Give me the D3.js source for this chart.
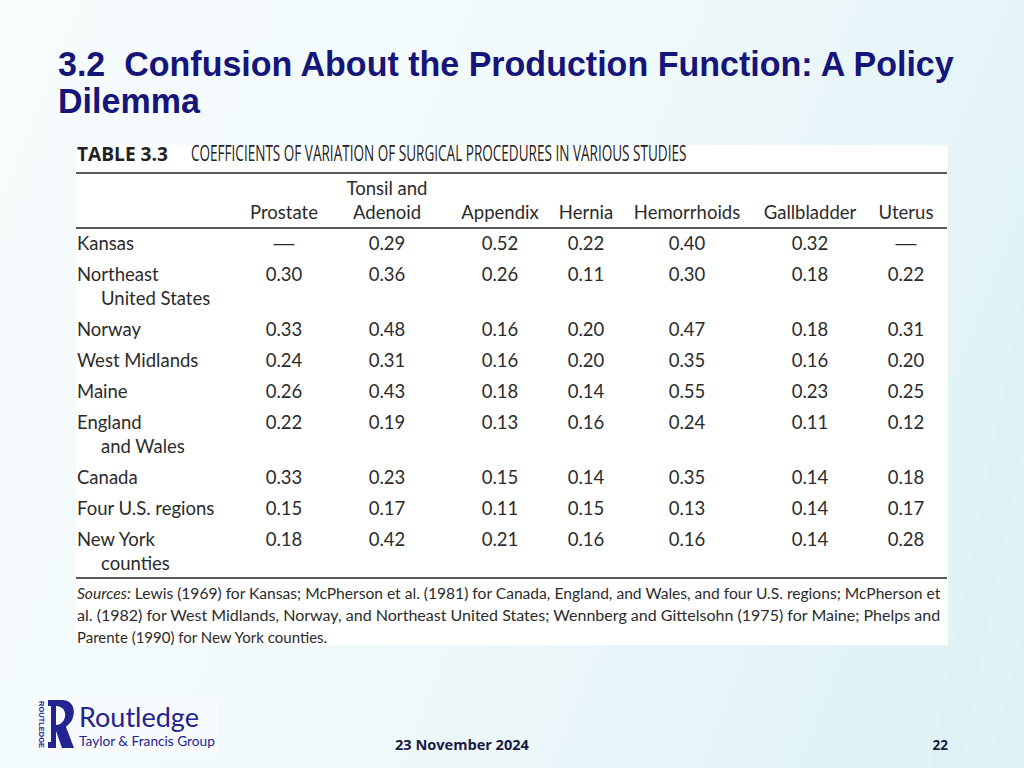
<!DOCTYPE html>
<html><head><meta charset="utf-8">
<script src="https://cdn.jsdelivr.net/npm/d3@7"></script>
<style>html,body{margin:0;padding:0;overflow:hidden;background:#f4fbfc} text{white-space:pre}</style>
</head><body>
<script>
// ---- data ----
const titleLines = ["3.2  Confusion About the Production Function: A Policy", "Dilemma"];
const tableLabel = "TABLE 3.3";
const tableCaption = "COEFFICIENTS OF VARIATION OF SURGICAL PROCEDURES IN VARIOUS STUDIES";
const columns = ["Prostate", "Tonsil and Adenoid", "Appendix", "Hernia", "Hemorrhoids", "Gallbladder", "Uterus"];
const columnHeaderLines = [["Prostate"], ["Tonsil and", "Adenoid"], ["Appendix"], ["Hernia"], ["Hemorrhoids"], ["Gallbladder"], ["Uterus"]];
const rowLabelLines = [
  ["Kansas"], ["Northeast", "United States"], ["Norway"], ["West Midlands"], ["Maine"],
  ["England", "and Wales"], ["Canada"], ["Four U.S. regions"], ["New York", "counties"]
];
const prostate    = [null, 0.30, 0.33, 0.24, 0.26, 0.22, 0.33, 0.15, 0.18];
const tonsil      = [0.29, 0.36, 0.48, 0.31, 0.43, 0.19, 0.23, 0.17, 0.42];
const appendix    = [0.52, 0.26, 0.16, 0.16, 0.18, 0.13, 0.15, 0.11, 0.21];
const hernia      = [0.22, 0.11, 0.20, 0.20, 0.14, 0.16, 0.14, 0.15, 0.16];
const hemorrhoids = [0.40, 0.30, 0.47, 0.35, 0.55, 0.24, 0.35, 0.13, 0.16];
const gallbladder = [0.32, 0.18, 0.18, 0.16, 0.23, 0.11, 0.14, 0.14, 0.14];
const uterus      = [null, 0.22, 0.31, 0.20, 0.25, 0.12, 0.18, 0.17, 0.28];
const seriesValues = [prostate, tonsil, appendix, hernia, hemorrhoids, gallbladder, uterus];
const sourceLines = [
  ["Sources:", " Lewis (1969) for Kansas; McPherson et al. (1981) for Canada, England, and Wales, and four U.S. regions; McPherson et"],
  ["", "al. (1982) for West Midlands, Norway, and Northeast United States; Wennberg and Gittelsohn (1975) for Maine; Phelps and"],
  ["", "Parente (1990) for New York counties."]
];
const footerDate = "23 November 2024";
const pageNumber = "22";

// ---- layout ----
const W = 1024, H = 768;
const svg = d3.select("body").append("svg").attr("width", W).attr("height", H);
const defs = svg.append("defs");
const bg = defs.append("linearGradient").attr("id", "bg").attr("x1", "0").attr("y1", "0").attr("x2", "1").attr("y2", "0.3");
bg.append("stop").attr("offset", "0").attr("stop-color", "#f7fcfd");
bg.append("stop").attr("offset", "0.55").attr("stop-color", "#f1f9fb");
bg.append("stop").attr("offset", "1").attr("stop-color", "#e2f3f6");
svg.append("rect").attr("width", W).attr("height", H).attr("fill", "url(#bg)");
svg.selectAll("path.band").data([
  "M1170,0 L1240,0 L1060,768 L990,768 Z",
  "M1080,0 L1110,0 L960,768 L930,768 Z"
]).join("path").attr("class", "band").attr("d", d => d).attr("fill", "#d8eef3").attr("opacity", 0.35);

function fitText(sel, w) {
  sel.each(function() {
    const l = this.getComputedTextLength();
    if (l > 0) {
      const x = +d3.select(this).attr("x");
      const s = w / l;
      d3.select(this).attr("transform", `translate(${x},0) scale(${s},1) translate(${-x},0)`);
    }
  });
}

// title
const titleColor = "#15157a";
svg.selectAll("text.title").data(titleLines).join("text")
  .attr("class", "title")
  .attr("x", 58).attr("y", (d, i) => 76 + i * 37)
  .attr("font-family", "Liberation Sans, Arial, sans-serif").attr("font-weight", "bold")
  .attr("font-size", 36).attr("fill", titleColor)
  .text(d => d)
  .each(function(d, i) { fitText(d3.select(this), i === 0 ? 896 : 142); });

// table panel
const tbl = svg.append("g");
tbl.append("rect").attr("x", 76).attr("y", 145).attr("width", 872).attr("height", 500).attr("fill", "#ffffff");

const ink = "#2b2b2b";
const fontT = "Lato, 'Open Sans', sans-serif";

tbl.append("text").attr("x", 77).attr("y", 161).attr("font-family", "'Open Sans', sans-serif")
  .attr("font-weight", "bold").attr("font-size", 19).attr("fill", "#222").text(tableLabel)
  .call(s => fitText(s, 91));
tbl.append("text").attr("x", 191).attr("y", 161).attr("font-family", "'Open Sans', sans-serif")
  .attr("font-size", 21).attr("fill", "#222").text(tableCaption)
  .call(s => fitText(s, 496));

const ruleColor = "#5a5a5a";
[173, 228, 578].forEach(y => {
  tbl.append("line").attr("x1", 76).attr("x2", 947).attr("y1", y).attr("y2", y)
    .attr("stroke", ruleColor).attr("stroke-width", 2);
});

const xCol = d3.scaleOrdinal().domain(columns).range([284, 387, 500, 586, 687, 810, 906]);

// headers
const hdr = tbl.selectAll("g.hdr").data(columns).join("g").attr("class", "hdr");
hdr.each(function(c, ci) {
  const lines = columnHeaderLines[ci];
  d3.select(this).selectAll("text").data(lines).join("text")
    .attr("x", xCol(c)).attr("y", (d, i) => 219 - (lines.length - 1 - i) * 24)
    .attr("text-anchor", "middle").attr("font-family", fontT).attr("font-size", 18.5).attr("fill", ink)
    .text(d => d);
});

// rows
const lineGap = 24, rowGap = 31;
const rowTops = [];
let yy = 250;
rowLabelLines.forEach(lines => { rowTops.push(yy); yy += rowGap + (lines.length - 1) * lineGap; });
const yRow = d3.scaleOrdinal().domain(rowLabelLines.map(l => l.join(" "))).range(rowTops);

const rows = tbl.selectAll("g.row").data(rowLabelLines).join("g").attr("class", "row");
rows.each(function(lines, ri) {
  const g = d3.select(this);
  const y0 = yRow(lines.join(" "));
  g.selectAll("text.lab").data(lines).join("text").attr("class", "lab")
    .attr("x", (d, i) => i === 0 ? 77 : 101).attr("y", (d, i) => y0 + i * lineGap)
    .attr("font-family", fontT).attr("font-size", 18.5).attr("fill", ink).text(d => d);
  g.selectAll("text.val").data(columns).join("text").attr("class", "val")
    .attr("x", c => xCol(c)).attr("y", y0)
    .attr("text-anchor", "middle").attr("font-family", fontT).attr("font-size", 18.5).attr("fill", ink)
    .text((c, ci) => { const v = seriesValues[ci][ri]; return v == null ? "\u2014" : v.toFixed(2); })
    .each(function(c, ci) {
      if (seriesValues[ci][ri] == null) {
        const x = xCol(c);
        d3.select(this).attr("transform", `translate(${x},0) scale(1.7,1) translate(${-x},0)`);
      }
    });
});

// sources
const src = tbl.selectAll("text.src").data(sourceLines).join("text").attr("class", "src")
  .attr("x", 77).attr("y", (d, i) => 599 + i * 22)
  .attr("font-family", fontT).attr("font-size", 15).attr("fill", ink);
src.each(function(d, i) {
  const t = d3.select(this);
  if (d[0]) t.append("tspan").attr("font-style", "italic").text(d[0]);
  t.append("tspan").text(d[1]);
  if (i < 2) fitText(t, 864);
});

// logo
const logo = svg.append("g");
logo.append("rect").attr("x", 34).attr("y", 697).attr("width", 184).attr("height", 56).attr("fill", "#f8fbfd");
const navy = "#232392";
logo.append("path").attr("fill", navy)
  .attr("d", "M48,700 L62,700 C74,700 76,712 72,720 C69,725 66,726 66,727 L74,748 L62,748 L56,731 L56,748 L48,748 L48,742 L51,742 L51,706 L48,706 Z M56,706 L56,725 C62,725 66,719 65,713 C64,708 60,706 56,706 Z");
logo.append("text").attr("transform", "translate(39,701) rotate(90)")
  .attr("font-family", "'Liberation Sans', sans-serif").attr("font-weight", "bold").attr("font-size", 7.5)
  .attr("fill", navy).text("ROUTLEDGE");
logo.append("text").attr("x", 79).attr("y", 727).attr("font-family", "Lato, sans-serif")
  .attr("font-size", 27).attr("fill", navy).text("Routledge").call(s => fitText(s, 120));
logo.append("text").attr("x", 79).attr("y", 746).attr("font-family", "Lato, sans-serif")
  .attr("font-size", 14).attr("fill", navy).text("Taylor & Francis Group").call(s => fitText(s, 136));

// footer
svg.append("text").attr("x", 395).attr("y", 750).attr("font-family", "'Open Sans', sans-serif")
  .attr("font-weight", "bold").attr("font-size", 13.5).attr("fill", "#1a1a44").text(footerDate)
  .call(s => fitText(s, 134));
svg.append("text").attr("x", 948).attr("y", 750).attr("text-anchor", "end").attr("font-family", "'Open Sans', sans-serif")
  .attr("font-weight", "bold").attr("font-size", 13.5).attr("fill", "#1a1a44").text(pageNumber);
</script>
</body></html>
